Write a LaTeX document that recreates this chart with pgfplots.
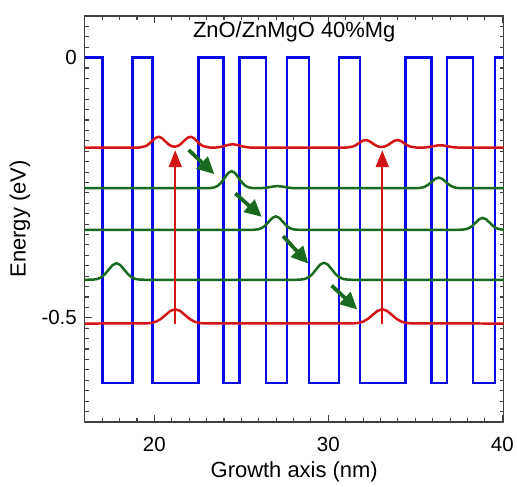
\documentclass[border=0pt]{standalone}
\usepackage{pgfplots}
\pgfplotsset{compat=1.18}
\usepackage{fontspec}
\setmainfont{Liberation Sans}
\usetikzlibrary{arrows.meta}
\definecolor{myblue}{RGB}{10,10,230}
\definecolor{myred}{RGB}{210,20,20}
\definecolor{mygreen}{RGB}{25,105,30}
\begin{document}
\begin{tikzpicture}
\begin{axis}[
 scale only axis, width=420pt, height=407pt,
 xmin=16, xmax=40.08, ymin=-0.70, ymax=0.08,
 xtick={20,30,40}, xticklabels={20,30,40},
 ytick={-0.5,0}, yticklabels={-0.5,0},
 minor xtick={16,17,...,40},
 minor ytick={-0.70,-0.68,...,0.08},
 tick align=inside,
 major tick length=7pt, minor tick length=4pt,
 every tick/.style={black!75, line width=1.1pt},
 axis line style={black!75, line width=1.4pt},
 ticklabel style={font=\fontsize{20.5}{24}\selectfont},
 xticklabel style={yshift=-12pt},
 yticklabel style={xshift=-4.5pt},
 line join=round,
]
\addplot[myblue, line width=2.5pt, line join=miter] coordinates {
(16,0) (17.01,0) (17.01,-0.625) (18.74,-0.625) (18.74,0) (19.88,0) (19.88,-0.625) (22.55,-0.625) (22.55,0) (23.98,0) (23.98,-0.625) (24.90,-0.625) (24.90,0) (26.41,0) (26.41,-0.625) (27.62,-0.625) (27.62,0) (28.89,0) (28.89,-0.625) (30.61,-0.625) (30.61,0) (31.83,0) (31.83,-0.625) (34.44,-0.625) (34.44,0) (35.93,0) (35.93,-0.625) (36.82,-0.625) (36.82,0) (38.31,0) (38.31,-0.625) (39.59,-0.625) (39.59,0) (40.08,0)};
% green 1
\addplot[mygreen, line width=2.5pt] coordinates {
(16,-0.251) (23.24,-0.2506) (23.44,-0.2495) (23.64,-0.2465) (23.84,-0.2403) (24.04,-0.231) (24.24,-0.2219) (24.44,-0.218) (24.64,-0.2219) (24.84,-0.231) (25.04,-0.2403) (25.24,-0.2465) (25.44,-0.2495) (25.64,-0.2506) (26.0,-0.251)
(26.28,-0.2505) (26.48,-0.2497) (26.68,-0.2486) (26.88,-0.2475) (27.08,-0.247) (27.28,-0.2475) (27.48,-0.2486) (27.68,-0.2497) (27.88,-0.2505) (28.2,-0.251)
(34.9,-0.251) (35.14,-0.2508) (35.34,-0.2501) (35.54,-0.2482) (35.74,-0.2443) (35.94,-0.2386) (36.14,-0.2329) (36.34,-0.2305) (36.54,-0.2329) (36.74,-0.2386) (36.94,-0.2443) (37.14,-0.2482) (37.34,-0.2501) (37.54,-0.2508) (37.9,-0.251) (40.08,-0.251)};
% green 2
\addplot[mygreen, line width=2.5pt] coordinates {
(16,-0.331) (25.6,-0.331) (25.78,-0.3307) (25.98,-0.3299) (26.18,-0.3275) (26.38,-0.3225) (26.58,-0.3152) (26.78,-0.3081) (26.98,-0.305) (27.18,-0.3081) (27.38,-0.3152) (27.58,-0.3225) (27.78,-0.3275) (27.98,-0.3299) (28.18,-0.3307) (28.5,-0.331)
(37.4,-0.331) (37.67,-0.3307) (37.87,-0.33) (38.07,-0.3279) (38.27,-0.3235) (38.47,-0.317) (38.67,-0.3107) (38.87,-0.308) (39.07,-0.3107) (39.27,-0.317) (39.47,-0.3235) (39.67,-0.3279) (39.87,-0.33) (40.08,-0.3306)};
% green 3
\addplot[mygreen, line width=2.5pt] coordinates {
(16,-0.427) (16.47,-0.4266) (16.695,-0.4256) (16.92,-0.4227) (17.145,-0.4166) (17.37,-0.4076) (17.595,-0.3988) (17.82,-0.395) (18.045,-0.3988) (18.27,-0.4076) (18.495,-0.4166) (18.72,-0.4227) (18.945,-0.4256) (19.17,-0.4266) (19.5,-0.427)
(28.1,-0.427) (28.40,-0.4266) (28.625,-0.4255) (28.85,-0.4225) (29.075,-0.4163) (29.30,-0.407) (29.525,-0.3979) (29.75,-0.394) (29.975,-0.3979) (30.20,-0.407) (30.425,-0.4163) (30.65,-0.4225) (30.875,-0.4255) (31.10,-0.4266) (31.4,-0.427) (40.08,-0.427)};
% red upper
\addplot[myred, line width=2.5pt] coordinates {
(16,-0.173) (19.13,-0.1728) (19.5,-0.1702) (19.685,-0.1662) (19.87,-0.1603) (20.055,-0.1545) (20.24,-0.152) (20.425,-0.1545) (20.61,-0.1603) (20.795,-0.1662) (20.98,-0.170) (21.155,-0.1712) (21.33,-0.170) (21.515,-0.1662) (21.70,-0.1603) (21.885,-0.1545) (22.07,-0.152) (22.255,-0.1545) (22.44,-0.1603) (22.625,-0.1662) (22.81,-0.1702) (23.18,-0.1728)
(23.5,-0.1729) (23.7,-0.1721) (23.9,-0.1709) (24.1,-0.1691) (24.3,-0.1674) (24.5,-0.1666) (24.7,-0.1674) (24.9,-0.1691) (25.1,-0.1709) (25.3,-0.1721) (25.5,-0.1729) (25.8,-0.173)
(31.03,-0.1729) (31.4,-0.171) (31.585,-0.1682) (31.77,-0.1641) (31.955,-0.160) (32.14,-0.1583) (32.325,-0.160) (32.51,-0.1641) (32.695,-0.1682) (32.88,-0.171) (33.055,-0.1717) (33.23,-0.171) (33.415,-0.1682) (33.60,-0.1641) (33.785,-0.160) (33.97,-0.1583) (34.155,-0.160) (34.34,-0.1641) (34.525,-0.1682) (34.71,-0.171) (35.08,-0.1729)
(35.44,-0.173) (35.64,-0.1724) (35.84,-0.1715) (36.04,-0.1703) (36.24,-0.169) (36.44,-0.1685) (36.64,-0.169) (36.84,-0.1703) (37.04,-0.1715) (37.24,-0.1724) (37.5,-0.173) (40.08,-0.173)};
% red lower
\addplot[myred, line width=2.5pt] coordinates {
(16,-0.511) (19.55,-0.5107) (19.825,-0.5098) (20.1,-0.5073) (20.375,-0.5021) (20.65,-0.4943) (20.925,-0.4867) (21.2,-0.4835) (21.475,-0.4867) (21.75,-0.4943) (22.025,-0.5021) (22.3,-0.5073) (22.575,-0.5098) (22.85,-0.5107)
(31.45,-0.5107) (31.725,-0.5098) (32.0,-0.5073) (32.275,-0.5021) (32.55,-0.4943) (32.825,-0.4867) (33.1,-0.4835) (33.375,-0.4867) (33.65,-0.4943) (33.925,-0.5021) (34.2,-0.5073) (34.475,-0.5098) (34.75,-0.5107) (40.08,-0.511)};
% red arrows
\addplot[myred, line width=2pt, -{Triangle[length=17pt,width=13pt]}] coordinates {(21.2,-0.511) (21.2,-0.178)};
\addplot[myred, line width=2pt, -{Triangle[length=17pt,width=13pt]}] coordinates {(33.1,-0.511) (33.1,-0.178)};
% green arrows
\addplot[mygreen, line width=3.8pt, -{Triangle[length=17pt,width=16pt]}] coordinates {(21.97,-0.1775) (23.45,-0.224)};
\addplot[mygreen, line width=3.8pt, -{Triangle[length=17pt,width=16pt]}] coordinates {(24.65,-0.261) (26.17,-0.306)};
\addplot[mygreen, line width=3.8pt, -{Triangle[length=17pt,width=16pt]}] coordinates {(27.40,-0.343) (28.85,-0.396)};
\addplot[mygreen, line width=3.8pt, -{Triangle[length=17pt,width=16pt]}] coordinates {(30.19,-0.438) (31.66,-0.484)};
\node[font=\fontsize{22}{26}\selectfont] at (rel axis cs:0.5,0.962) {ZnO/ZnMgO 40\%Mg};
\end{axis}
\node[font=\fontsize{22}{26}\selectfont, rotate=90] at ([xshift=-65pt]current axis.west) {Energy (eV)};
\node[font=\fontsize{22}{26}\selectfont] at ([yshift=-50pt]current axis.south) {Growth axis (nm)};
\path ([xshift=-85pt,yshift=-65pt]current axis.south west) ([xshift=12pt,yshift=16pt]current axis.north east);
\end{tikzpicture}
\end{document}
